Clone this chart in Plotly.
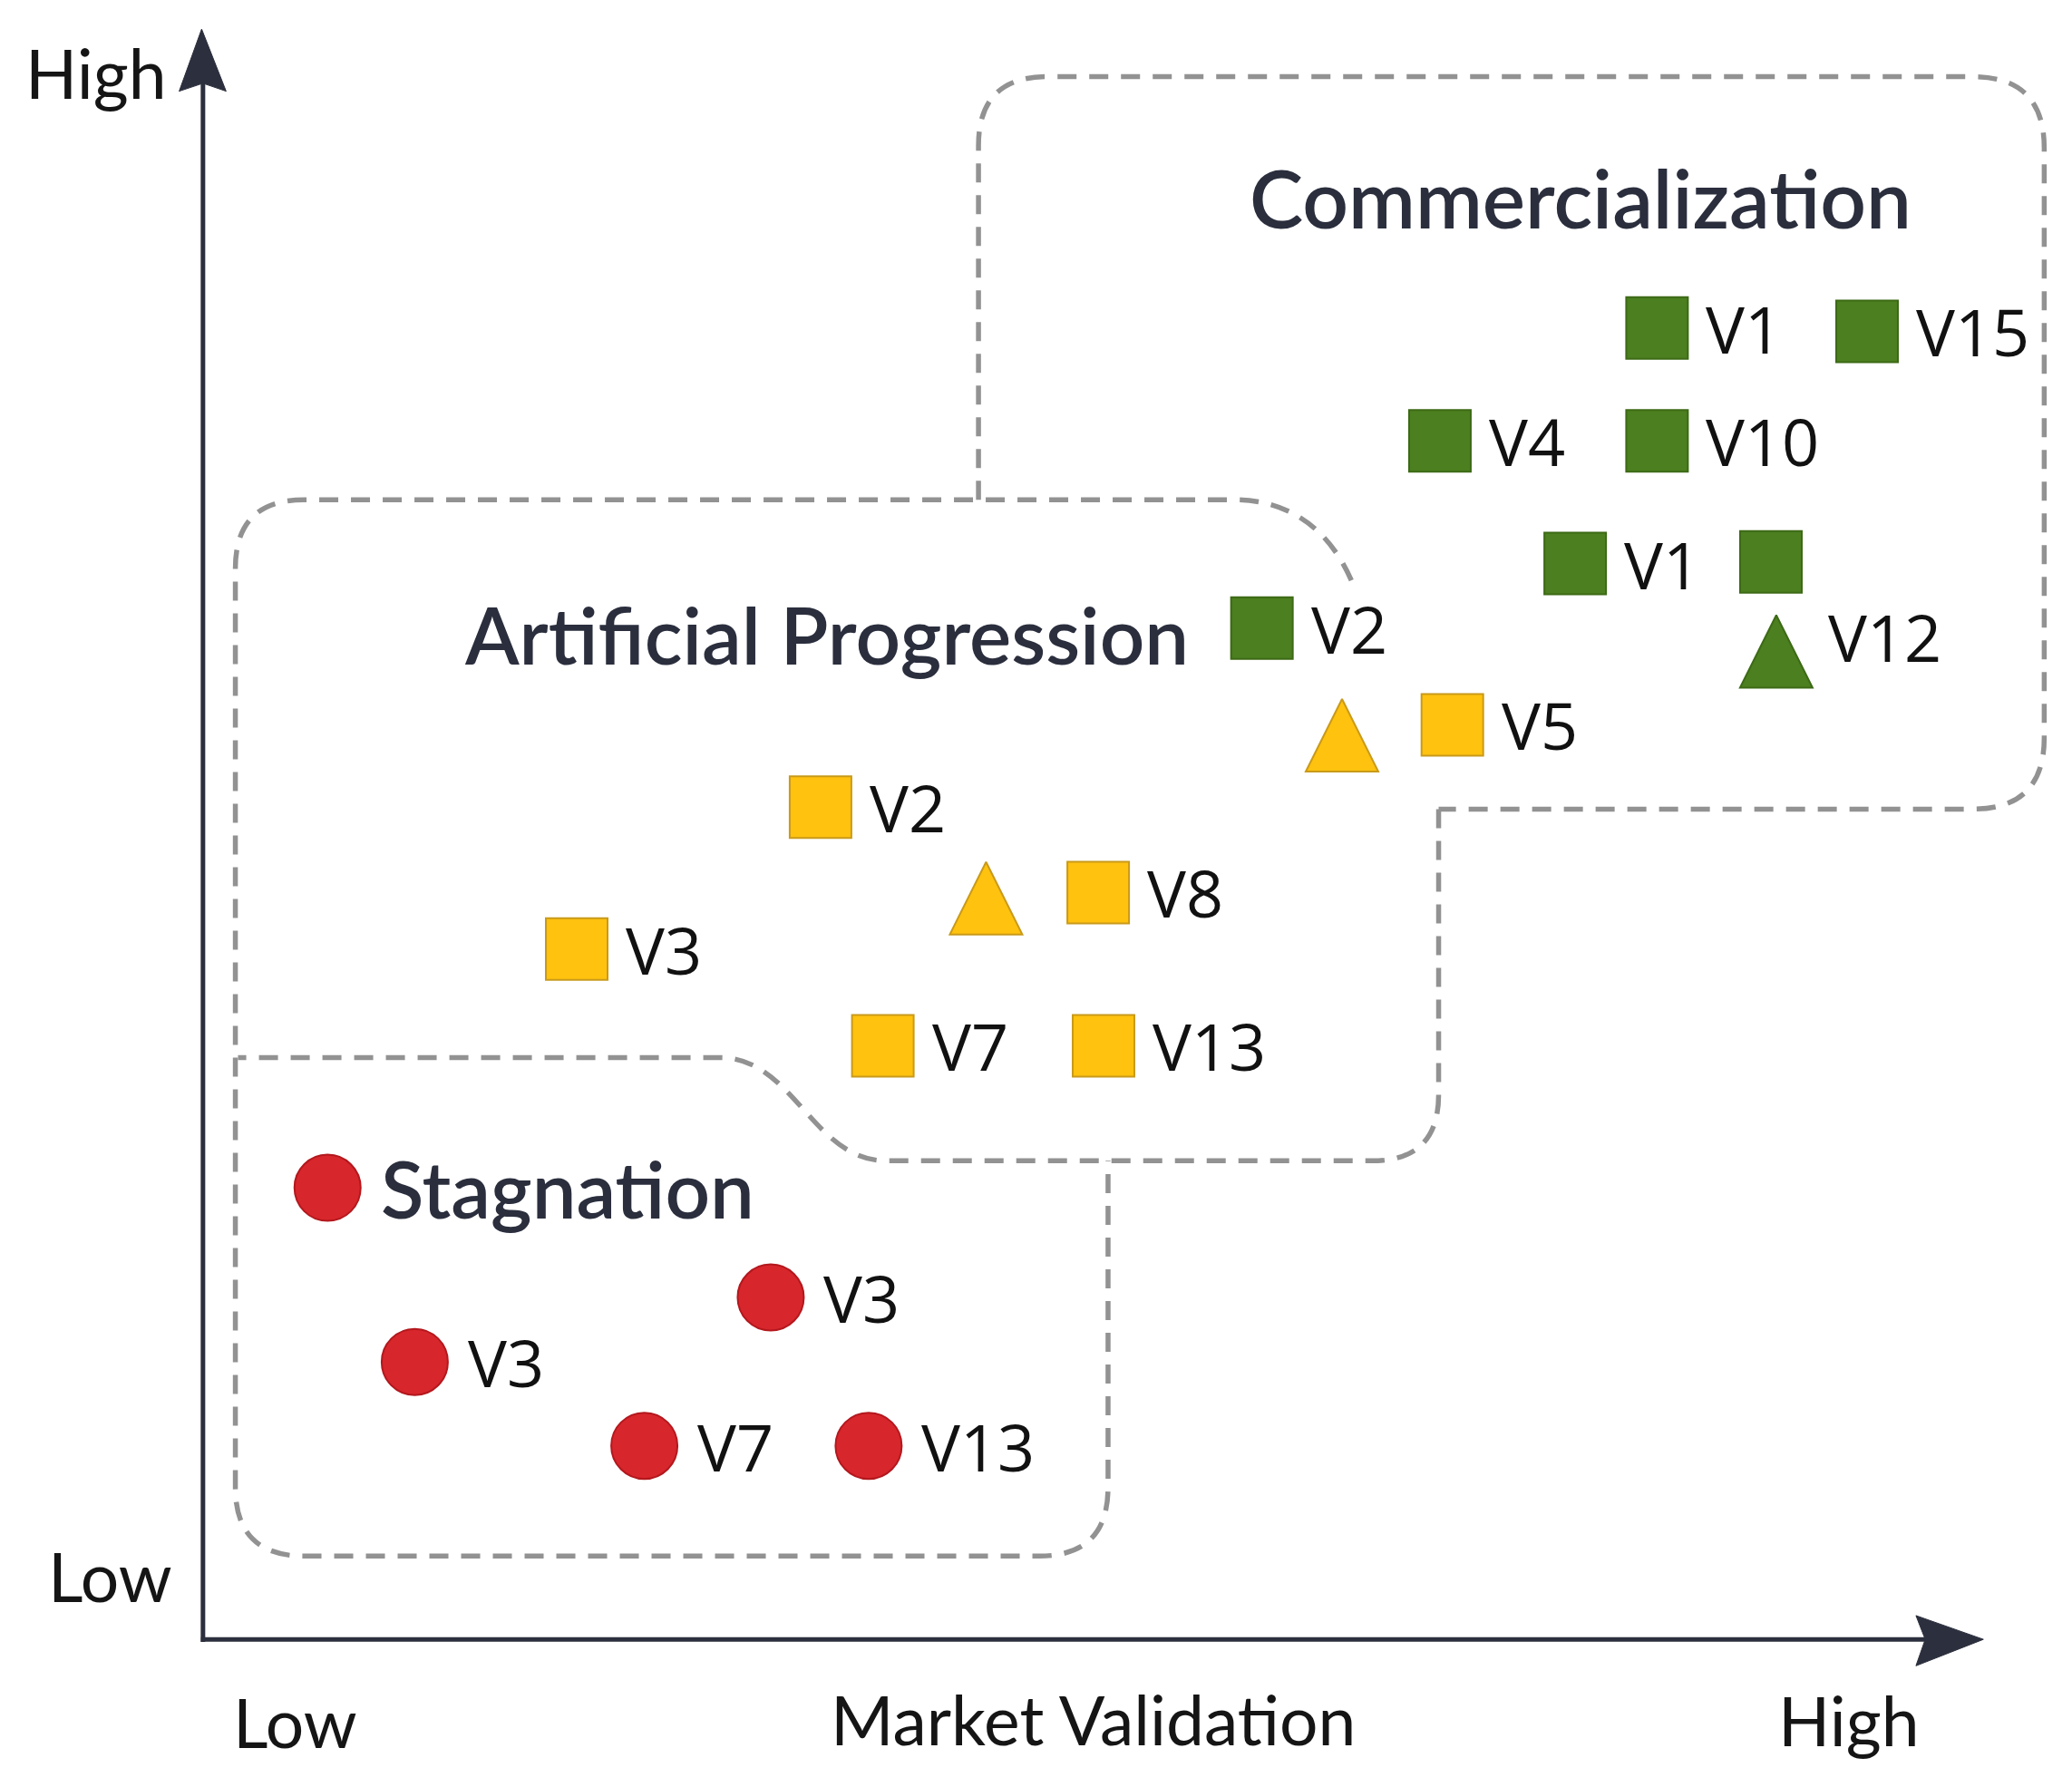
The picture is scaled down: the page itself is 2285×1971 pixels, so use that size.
import plotly.graph_objects as go

# ---------------- data (0-10 scales) ----------------
comm_sq_labels = ["V1", "V15", "V4", "V10", "V1", "", "V2"]
comm_sq_x = [8.17, 9.35, 6.95, 8.17, 7.71, 8.81, 5.95]
comm_sq_y = [8.13, 8.11, 7.43, 7.43, 6.67, 6.68, 6.27]

comm_tri_labels = ["V12"]
comm_tri_x = [8.84]
comm_tri_y = [6.35]

prog_sq_labels = ["V5", "V2", "V8", "V3", "V7", "V13"]
prog_sq_x = [7.02, 3.47, 5.03, 2.10, 3.82, 5.06]
prog_sq_y = [5.67, 5.16, 4.63, 4.28, 3.68, 3.68]

prog_tri_labels = ["", ""]
prog_tri_x = [6.40, 4.40]
prog_tri_y = [5.83, 4.82]

stag_labels = ["Stagnation", "V3", "V3", "V7", "V13"]
stag_x = [0.70, 3.19, 1.19, 2.48, 3.74]
stag_y = [2.80, 2.12, 1.72, 1.20, 1.20]

region_titles = ["Commercialization", "Artificial Progression"]
axis_x_labels = ["Low", "Market Validation", "High"]
axis_y_labels = ["High", "Low"]

# ---------------- geometry helpers (reference-pixel -> data) ----------------
W, H = 2285, 1971
PAGE_MARGIN = 8          # default <body> margin of the written page
K = W / 1567.0
X0, XS = 153.5, 134.6
Y0, YS = 1240.0, 122.0


def gx(p):
    return (p - X0) / XS


def gy(p):
    return (Y0 - p) / YS


def path(cmds):
    parts = []
    for c in cmds:
        op, pts = c[0], c[1:]
        coords = " ".join(f"{gx(pts[i]):.4f},{gy(pts[i + 1]):.4f}" for i in range(0, len(pts), 2))
        parts.append(op + coords)
    return " ".join(parts)


GREEN, GREEN_E = "#4b7f1f", "#3d6a16"
YELLOW, YELLOW_E = "#ffc20e", "#c99a1a"
RED, RED_E = "#d7262c", "#b3181d"
AXIS = "#2c2f3d"
TITLE = "#2a2e3d"
DASH = "#929292"

SQ, TRI, CIR = 68, 80, 73

fig = go.Figure()


def add_group(xs, ys, symbol, size, fill, edge):
    fig.add_trace(go.Scatter(
        x=xs, y=ys, mode="markers", hoverinfo="skip", showlegend=False,
        marker=dict(symbol=symbol, size=size, color=fill, line=dict(color=edge, width=2)),
    ))


add_group(comm_sq_x, comm_sq_y, "square", SQ, GREEN, GREEN_E)
add_group(comm_tri_x, comm_tri_y, "arrow-up", TRI, GREEN, GREEN_E)
add_group(prog_sq_x, prog_sq_y, "square", SQ, YELLOW, YELLOW_E)
add_group(prog_tri_x, prog_tri_y, "arrow-up", TRI, YELLOW, YELLOW_E)
add_group(stag_x, stag_y, "circle", CIR, RED, RED_E)

annotations = []


def add_labels(xs, ys, labels, xshift, yshift=0):
    for x, y, t in zip(xs, ys, labels):
        if not t:
            continue
        big = t == "Stagnation"
        annotations.append(dict(
            x=x, y=y, text=t, showarrow=False, xanchor="left", yanchor="middle",
            xshift=xshift, yshift=yshift,
            font=dict(family="Lato" if big else "Open Sans", size=87 if big else 72,
                      color=TITLE if big else "#111111",
                      weight=600 if big else 500),
        ))


add_labels(comm_sq_x, comm_sq_y, comm_sq_labels, SQ / 2 + 18)
add_labels(comm_tri_x, comm_tri_y, comm_tri_labels, 55, -23)
add_labels(prog_sq_x, prog_sq_y, prog_sq_labels, SQ / 2 + 18)
add_labels(stag_x, stag_y, stag_labels, CIR / 2 + 20)

# region titles
title_pos = [(1195, 149), (625, 480)]
title_size = [89, 87]
for t, (px, py), fs in zip(region_titles, title_pos, title_size):
    annotations.append(dict(x=gx(px), y=gy(py), text=t, showarrow=False,
                            xanchor="center", yanchor="middle",
                            font=dict(family="Lato", size=fs, color=TITLE, weight=600)))

# axis labels
xl_pos = [(223, 1302), (827, 1300), (1398, 1301)]
for t, (px, py) in zip(axis_x_labels, xl_pos):
    annotations.append(dict(x=gx(px), y=gy(py), text=t, showarrow=False,
                            xanchor="center", yanchor="middle",
                            font=dict(family="Lato", size=75, color="#151515")))
yl_pos = [(73, 55), (83, 1192)]
for t, (px, py) in zip(axis_y_labels, yl_pos):
    annotations.append(dict(x=gx(px), y=gy(py), text=t, showarrow=False,
                            xanchor="center", yanchor="middle",
                            font=dict(family="Lato", size=75, color="#151515")))

dash_line = dict(color=DASH, width=5.5, dash="21px,14px")
shapes = [
    dict(type="path", layer="below", line=dash_line,
         path=path([("M", 740, 378), ("L", 740, 110), ("Q", 740, 58, 792, 58), ("L", 1492, 58),
                    ("Q", 1546, 58, 1546, 112), ("L", 1546, 558), ("Q", 1546, 612, 1492, 612),
                    ("L", 1088, 612)])),
    dict(type="path", layer="below", line=dash_line,
         path=path([("M", 1088, 612), ("L", 1088, 828), ("Q", 1088, 878, 1038, 878), ("L", 670, 878),
                    ("C", 615, 878, 600, 800, 545, 800), ("L", 180, 800)])),
    dict(type="path", layer="below", line=dash_line,
         path=path([("M", 1022, 439), ("C", 1005, 400, 975, 378, 933, 378), ("L", 230, 378),
                    ("Q", 178, 378, 178, 430), ("L", 178, 1125), ("Q", 178, 1177, 230, 1177),
                    ("L", 786, 1177), ("Q", 838, 1177, 838, 1125), ("L", 838, 878)])),
    # axes
    dict(type="line", x0=gx(153.5), y0=gy(1242), x1=gx(153.5), y1=gy(60), line=dict(color=AXIS, width=5)),
    dict(type="line", x0=gx(152), y0=gy(1240), x1=gx(1462), y1=gy(1240), line=dict(color=AXIS, width=5)),
    dict(type="path", fillcolor=AXIS, line=dict(color=AXIS, width=1),
         path=path([("M", 152.5, 22), ("L", 171, 69), ("L", 153.5, 63), ("L", 135.5, 69)]) + " Z"),
    dict(type="path", fillcolor=AXIS, line=dict(color=AXIS, width=1),
         path=path([("M", 1500, 1240), ("L", 1449, 1222), ("L", 1456, 1240), ("L", 1449, 1260)]) + " Z"),
]

fig.update_layout(
    width=W - 2 * PAGE_MARGIN, height=H - 2 * PAGE_MARGIN,
    margin=dict(l=0, r=0, t=0, b=0),
    paper_bgcolor="white", plot_bgcolor="white",
    xaxis=dict(range=[gx(PAGE_MARGIN / K), gx((W - PAGE_MARGIN) / K)], visible=False, fixedrange=True),
    yaxis=dict(range=[gy((H - PAGE_MARGIN) / K), gy(PAGE_MARGIN / K)], visible=False, fixedrange=True),
    shapes=shapes,
    annotations=annotations,
    showlegend=False,
)

fig.write_html("out.html", config={"displayModeBar": False})
